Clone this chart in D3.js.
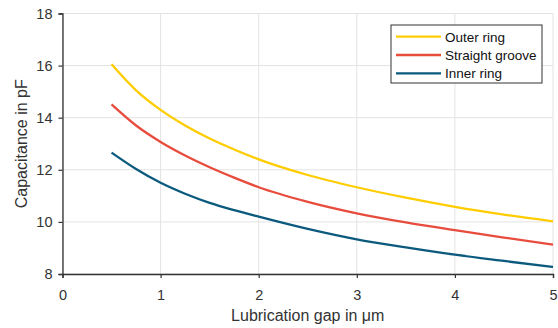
<!DOCTYPE html>
<html>
<head>
<meta charset="utf-8">
<script src="https://cdn.jsdelivr.net/npm/d3@7"></script>
<style>
  body { margin: 0; background: #fff; }
  svg { font-family: "Liberation Sans", Arial, sans-serif; }
</style>
</head>
<body>
<svg id="chart" width="558" height="328"></svg>
<script>
// gap values in um
const gaps = [0.5, 0.75, 1, 1.25, 1.5, 1.75, 2, 2.5, 3, 3.5, 4, 4.5, 5];
// capacitance in pF
const outerRing = [16.05, 15.05, 14.3, 13.7, 13.2, 12.78, 12.4, 11.8, 11.33, 10.93, 10.58, 10.28, 10.02];
const straightGroove = [14.51, 13.7, 13.07, 12.55, 12.1, 11.7, 11.33, 10.77, 10.33, 9.98, 9.68, 9.4, 9.13];
const innerRing = [12.66, 12.03, 11.5, 11.08, 10.73, 10.45, 10.2, 9.73, 9.33, 9.02, 8.74, 8.5, 8.27];
const xTicks = [0, 1, 2, 3, 4, 5];
const yTicks = [8, 10, 12, 14, 16, 18];

const series = [
  { name: "Outer ring", values: outerRing, color: "#ffcc00" },
  { name: "Straight groove", values: straightGroove, color: "#e84c3d" },
  { name: "Inner ring", values: innerRing, color: "#0b5a7e" },
];

const svg = d3.select("#chart");
const margin = { left: 62.5, right: 5, top: 13.5, bottom: 54 };
const width = 558 - margin.left - margin.right;
const height = 328 - margin.top - margin.bottom;

const x = d3.scaleLinear().domain([0, 5]).range([0, width]);
const y = d3.scaleLinear().domain([8, 18]).range([height, 0]);

const g = svg.append("g").attr("transform", `translate(${margin.left},${margin.top})`);

// grid
g.append("g")
  .selectAll("line")
  .data(xTicks)
  .join("line")
  .attr("x1", (d) => x(d)).attr("x2", (d) => x(d))
  .attr("y1", 0).attr("y2", height)
  .attr("stroke", "#e3e3e3");
g.append("g")
  .selectAll("line")
  .data(yTicks)
  .join("line")
  .attr("x1", 0).attr("x2", width)
  .attr("y1", (d) => y(d)).attr("y2", (d) => y(d))
  .attr("stroke", "#e3e3e3");

// axes
const xAxis = g.append("g")
  .attr("transform", `translate(0,${height})`)
  .call(d3.axisBottom(x).tickValues(xTicks).tickFormat(d3.format("d")).tickSize(4).tickPadding(12));
const yAxis = g.append("g")
  .call(d3.axisLeft(y).tickValues(yTicks).tickFormat(d3.format("d")).tickSize(4).tickPadding(6));

[xAxis, yAxis].forEach((a) => {
  a.select(".domain").attr("stroke", "#333").attr("stroke-width", 1.3);
  a.selectAll(".tick line").attr("stroke", "#333").attr("stroke-width", 1.2);
  a.selectAll(".tick text").attr("fill", "#333").style("font-size", "14.5px");
});

// lines
const line = d3.line()
  .x((d, i) => x(gaps[i]))
  .y((d) => y(d))
  .curve(d3.curveMonotoneX);

g.selectAll(".series")
  .data(series)
  .join("path")
  .attr("class", "series")
  .attr("fill", "none")
  .attr("stroke", (d) => d.color)
  .attr("stroke-width", 2.3)
  .attr("d", (d) => line(d.values));

// axis titles
svg.append("text")
  .attr("x", margin.left + width / 2)
  .attr("y", 321)
  .attr("text-anchor", "middle")
  .attr("fill", "#333")
  .style("font-size", "16px")
  .text("Lubrication gap in μm");
svg.append("text")
  .attr("transform", `translate(26.5,${margin.top + height / 2}) rotate(-90)`)
  .attr("text-anchor", "middle")
  .attr("fill", "#333")
  .style("font-size", "16px")
  .text("Capacitance in pF");

// legend
const legend = svg.append("g").attr("transform", "translate(391,25)");
legend.append("rect")
  .attr("width", 151).attr("height", 58)
  .attr("fill", "#fff").attr("stroke", "#333").attr("stroke-width", 1);
series.forEach((s, i) => {
  const ly = 11.7 + i * 18.3;
  legend.append("line")
    .attr("x1", 5).attr("x2", 50)
    .attr("y1", ly).attr("y2", ly)
    .attr("stroke", s.color).attr("stroke-width", 2.3);
  legend.append("text")
    .attr("x", 54).attr("y", ly + 4.8)
    .attr("fill", "#111")
    .style("font-size", "13.5px")
    .text(s.name);
});
</script>
</body>
</html>
